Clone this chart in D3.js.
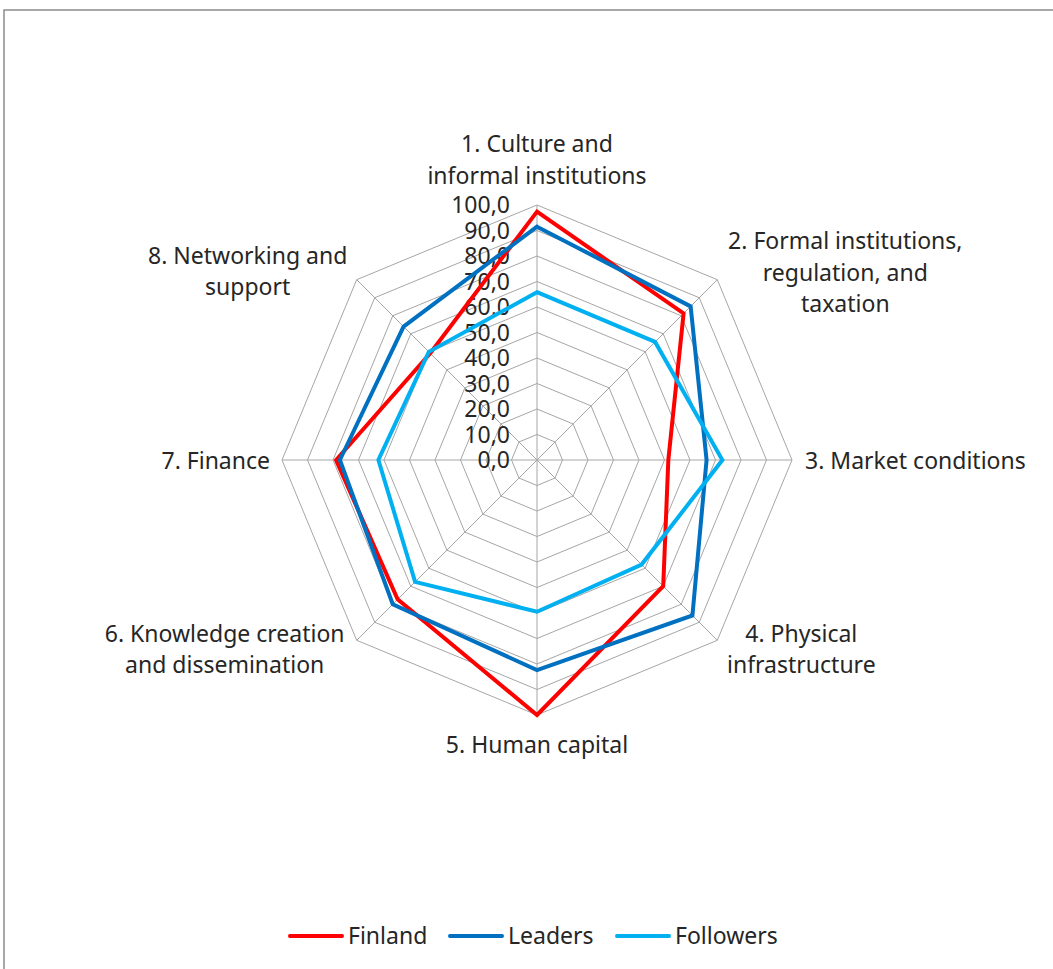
<!DOCTYPE html>
<html>
<head>
<meta charset="utf-8">
<script src="https://cdn.jsdelivr.net/npm/d3@7"></script>
<style>
  html, body { margin: 0; padding: 0; background: #fff; }
  svg { display: block; }
  text { font-family: "Noto Sans", "Open Sans", sans-serif; fill: #262626; }
</style>
</head>
<body>
<svg id="chart" width="1053" height="969"></svg>
<script>
// Entrepreneurial ecosystem pillars (radar axes), clockwise from the top
const categories = [
  ["1. Culture and", "informal institutions"],
  ["2. Formal institutions,", "regulation, and", "taxation"],
  ["3. Market conditions"],
  ["4. Physical", "infrastructure"],
  ["5. Human capital"],
  ["6. Knowledge creation", "and dissemination"],
  ["7. Finance"],
  ["8. Networking and", "support"]
];

const seriesNames = ["Finland", "Leaders", "Followers"];
const finland   = [97.4, 81.3, 51.5, 70.0, 100.0, 77.3, 78.8, 59.2];
const leaders   = [91.5, 85.2, 66.5, 86.2, 82.4, 80.0, 77.3, 74.0];
const followers = [65.8, 65.5, 72.7, 58.0, 59.5, 67.6, 62.2, 60.0];
const seriesValues = [finland, leaders, followers];
const seriesColors = ["#FF0000", "#0070C0", "#00B0F0"];

const tickValues = [0, 10, 20, 30, 40, 50, 60, 70, 80, 90, 100];
const tickLabels = ["0,0", "10,0", "20,0", "30,0", "40,0", "50,0", "60,0", "70,0", "80,0", "90,0", "100,0"];

const FS = 23;
const svg = d3.select("#chart");

// chart frame
svg.append("rect")
  .attr("x", 4).attr("y", 10)
  .attr("width", 1100).attr("height", 1000)
  .attr("fill", "none").attr("stroke", "#8c8c8c").attr("stroke-width", 1.5);

const cx = 537, cy = 460, R = 255;
const n = categories.length;
const r = d3.scaleLinear().domain([0, 100]).range([0, R]);
const angle = i => (i * 2 * Math.PI) / n;
const pt = (i, v) => [cx + r(v) * Math.sin(angle(i)), cy - r(v) * Math.cos(angle(i))];

const g = svg.append("g");

// octagonal grid rings
tickValues.slice(1).forEach(t => {
  g.append("polygon")
    .attr("points", d3.range(n).map(i => pt(i, t).join(",")).join(" "))
    .attr("fill", "none").attr("stroke", "#a6a6a6").attr("stroke-width", 1);
});

// spokes
d3.range(n).forEach(i => {
  const [x, y] = pt(i, 100);
  g.append("line")
    .attr("x1", cx).attr("y1", cy).attr("x2", x).attr("y2", y)
    .attr("stroke", "#a6a6a6").attr("stroke-width", 1);
});

// value ticks along the top spoke
g.selectAll("text.tick")
  .data(tickValues)
  .join("text")
  .attr("class", "tick")
  .attr("x", cx - 27)
  .attr("y", d => cy - r(d))
  .attr("dy", "0.35em")
  .attr("text-anchor", "end")
  .attr("font-size", FS)
  .text((d, i) => tickLabels[i]);

// series outlines
const radial = d3.line().curve(d3.curveLinearClosed);
seriesValues.forEach((vals, s) => {
  g.append("path")
    .attr("d", radial(vals.map((v, i) => pt(i, v))))
    .attr("fill", "none")
    .attr("stroke", seriesColors[s])
    .attr("stroke-width", 4)
    .attr("stroke-linejoin", "miter");
});

// category labels: offset of the block centre from each outer vertex
const labelOffsets = [[0, -45], [128, -7], [13, 1], [84, 9], [0, 30], [-132, 9], [-12, 1], [-109, -8]];
const anchors = ["middle", "middle", "start", "middle", "middle", "middle", "end", "middle"];
const lineH = 31.5;
categories.forEach((lines, i) => {
  const [vx, vy] = pt(i, 100);
  const bx = vx + labelOffsets[i][0];
  const by = vy + labelOffsets[i][1];
  const t = g.append("text")
    .attr("text-anchor", anchors[i])
    .attr("font-size", FS);
  lines.forEach((ln, k) => {
    t.append("tspan")
      .attr("x", bx)
      .attr("y", by + (k - (lines.length - 1) / 2) * lineH)
      .attr("dy", "0.35em")
      .text(ln);
  });
});

// legend
const legendX = [290, 450, 617];
const legendY = 936;
seriesNames.forEach((name, s) => {
  const lg = svg.append("g").attr("transform", `translate(${legendX[s]},${legendY})`);
  lg.append("line")
    .attr("x1", 0).attr("x2", 52).attr("y1", 0).attr("y2", 0)
    .attr("stroke", seriesColors[s]).attr("stroke-width", 4).attr("stroke-linecap", "round");
  lg.append("text")
    .attr("x", 58).attr("y", 0).attr("dy", "0.35em")
    .attr("font-size", FS)
    .text(name);
});
</script>
</body>
</html>
